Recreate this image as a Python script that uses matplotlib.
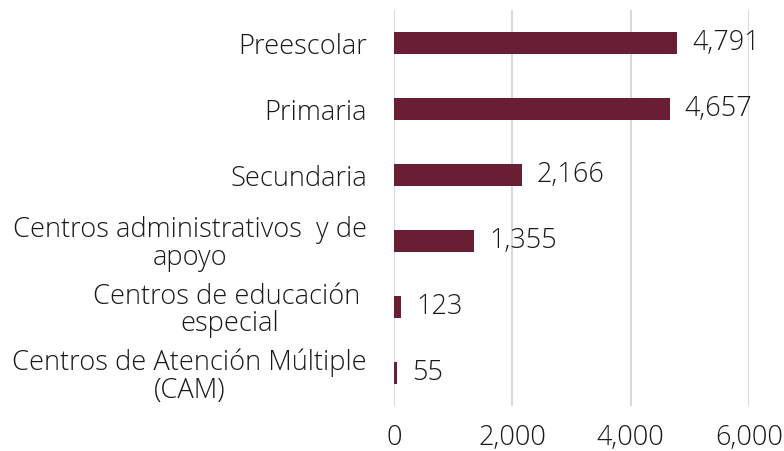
import matplotlib
matplotlib.use("Agg")
import matplotlib.pyplot as plt
from matplotlib.ticker import FuncFormatter

categories = ["Preescolar", "Primaria", "Secundaria",
              "Centros administrativos  y de\napoyo",
              "Centros de educación \nespecial",
              "Centros de Atención Múltiple\n(CAM)"]
values = [4791, 4657, 2166, 1355, 123, 55]
xticks = [0, 2000, 4000, 6000]

plt.rcParams['font.family'] = ['Open Sans', 'DejaVu Sans']
plt.rcParams['font.weight'] = 'light'
fig = plt.figure(figsize=(7.84, 4.51), dpi=100)
ax = fig.add_axes([394/784, 1 - 406/451, (749-394)/784, 396/451])

y = list(range(len(categories)))
ax.barh(y, values, height=0.33, color="#6A1E33", zorder=3)
ax.set_ylim(len(categories) - 0.5, -0.5)
ax.set_xlim(0, 6000)
ax.set_xticks(xticks)
ax.xaxis.set_major_formatter(FuncFormatter(lambda v, p: f"{int(v):,}"))
ax.set_yticks(y)
ax.set_yticklabels(categories, multialignment='center', linespacing=1.0)
ax.tick_params(axis='y', length=0, pad=19.5, labelsize=19.6)
ax.tick_params(axis='x', length=0, pad=13, labelsize=19.5)

ax.grid(axis='x', color="#D9D9D9", linewidth=1.5, zorder=0)
for s in ax.spines.values():
    s.set_visible(False)
for yi, v in zip(y, values):
    ax.text(v + 250, yi, f"{v:,}", va='center', ha='left', fontsize=19.5, color="#1a1a1a")
for t in ax.get_xticklabels() + ax.get_yticklabels():
    t.set_color("#1a1a1a")
fig.savefig("out.png", dpi=100)
